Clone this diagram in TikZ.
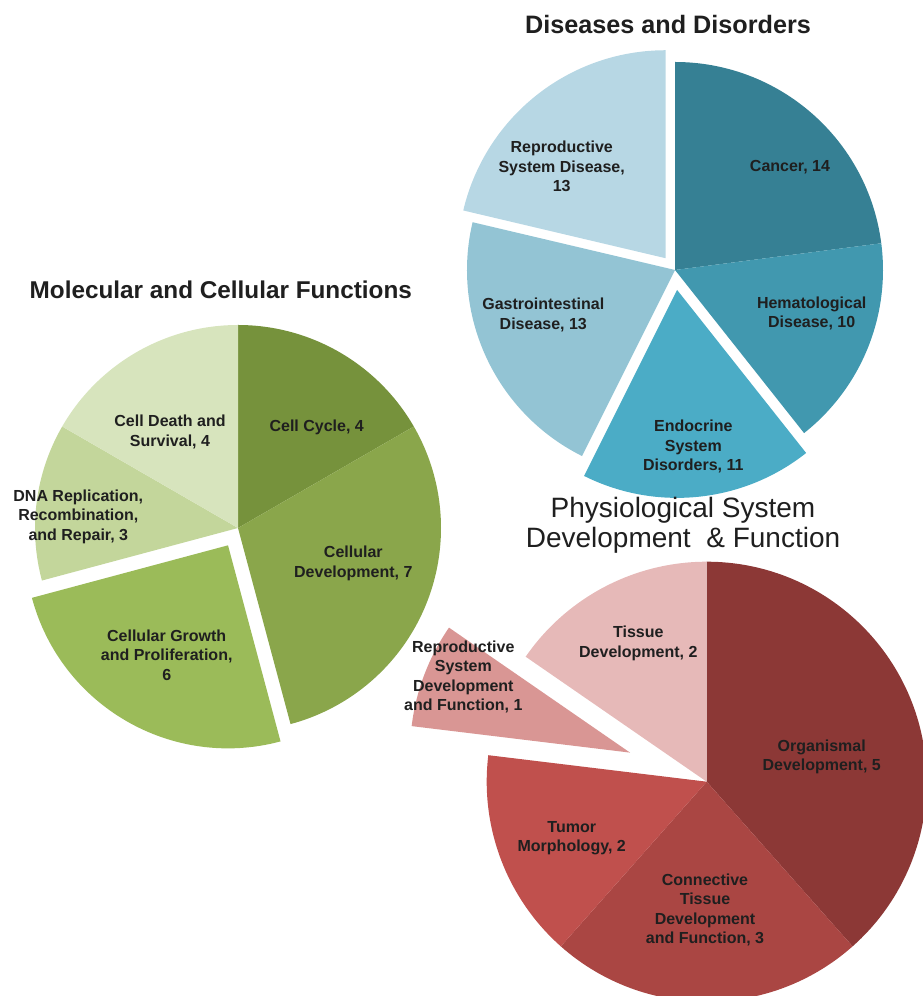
\documentclass[tikz,border=0pt]{standalone}
\usepackage{fontspec}
\setmainfont{Liberation Sans}
\begin{document}
\begin{tikzpicture}[x=1pt,y=1pt,
  lbl/.style={align=center, font=\fontsize{16}{19.5}\selectfont\bfseries, text=black!88, inner sep=0pt},
  ttl/.style={align=center, font=\fontsize{24.3}{28}\selectfont\bfseries, text=black!88, inner sep=0pt},
  bigttl/.style={align=center, font=\fontsize{28}{30}\selectfont, text=black!88, inner sep=0pt},
]
% slice: centre x, centre y, radius, start angle, end angle, explode offset, colour
\newcommand\pieslice[7]{%
  \fill[#7, shift={({(#4+#5)/2}:#6)}] (#1,#2) -- ++(#4:#3)
    arc[start angle=#4, end angle=#5, radius=#3] -- cycle;}

\definecolor{dCancer}{HTML}{368094}
\definecolor{dHema}{HTML}{4198AF}
\definecolor{dEndo}{HTML}{4BACC6}
\definecolor{dGast}{HTML}{93C4D4}
\definecolor{dRepro}{HTML}{B7D7E4}
\definecolor{mCycle}{HTML}{76923C}
\definecolor{mDev}{HTML}{8AA64B}
\definecolor{mGrowth}{HTML}{9BBB59}
\definecolor{mDNA}{HTML}{C3D69B}
\definecolor{mDeath}{HTML}{D7E4BD}
\definecolor{pOrg}{HTML}{8C3836}
\definecolor{pConn}{HTML}{AA4643}
\definecolor{pTumor}{HTML}{C0504D}
\definecolor{pRepro}{HTML}{D99694}
\definecolor{pTissue}{HTML}{E6B9B8}

\path[use as bounding box] (0,0) rectangle (923,996);
\clip (0,0) rectangle (923,996);

% Diseases and Disorders
\pieslice{675}{726}{208}{90}{7.38}{0}{dCancer}
\pieslice{675}{726}{208}{7.38}{-51.64}{0}{dHema}
\pieslice{675}{726}{208}{-51.64}{-116.56}{20}{dEndo}
\pieslice{675}{726}{208}{-116.56}{-193.28}{0}{dGast}
\pieslice{675}{726}{208}{-193.28}{-270}{15}{dRepro}
\node[ttl, font=\fontsize{25.2}{28}\selectfont\bfseries] (dtitle) at (668,971) {Diseases and Disorders};
\node[lbl] (dcancer) at (790,829.3) {Cancer, 14};
\node[lbl] (dhema) at (811.7,682.7) {Hematological\\Disease, 10};
\node[lbl] (dendo) at (693.3,549.3) {Endocrine\\System\\Disorders, 11};
\node[lbl] (dgast) at (543.3,681) {Gastrointestinal\\Disease, 13};
\node[lbl] (drepro) at (561.7,829.3) {Reproductive\\System Disease,\\13};

% Molecular and Cellular Functions
\pieslice{238}{468}{203}{90}{30}{0}{mCycle}
\pieslice{238}{468}{203}{30}{-75}{0}{mDev}
\pieslice{238}{468}{203}{-75}{-165}{20}{mGrowth}
\pieslice{238}{468}{203}{-165}{-210}{0}{mDNA}
\pieslice{238}{468}{203}{-210}{-270}{0}{mDeath}
\node[ttl] (mtitle) at (220.8,706) {Molecular and Cellular Functions};
\node[lbl] (mdeath) at (170,564.3) {Cell Death and\\Survival, 4};
\node[lbl] (mcycle) at (316.7,568.7) {Cell Cycle, 4};
\node[lbl] (mdna) at (78.3,479.3) {DNA Replication,\\Recombination,\\and Repair, 3};
\node[lbl] (mdev) at (353.3,432.7) {Cellular\\Development, 7};
\node[lbl] (mgrowth) at (166.7,341) {Cellular Growth\\and Proliferation,\\6};

% Physiological System Development & Function
\pieslice{706.7}{214.3}{220}{90}{-48.46}{0}{pOrg}
\pieslice{706.7}{214.3}{220}{-48.46}{-131.54}{0}{pConn}
\pieslice{706.7}{214.3}{220}{-131.54}{-186.92}{0}{pTumor}
\pieslice{706.7}{214.3}{220}{-186.92}{-214.62}{82}{pRepro}
\pieslice{706.7}{214.3}{220}{-214.62}{-270}{0}{pTissue}
\node[bigttl] (ptitle) at (683,471) {Physiological System\\Development\ \ \& Function};
\node[lbl] (ptissue) at (638.3,352.7) {Tissue\\Development, 2};
\node[lbl] (prepro) at (463.3,319.3) {Reproductive\\System\\Development\\and Function, 1};
\node[lbl] (porg) at (821.7,239.3) {Organismal\\Development, 5};
\node[lbl] (ptumor) at (571.7,157.7) {Tumor\\Morphology, 2};
\node[lbl] (pconn) at (705,86) {Connective\\Tissue\\Development\\and Function, 3};
\end{tikzpicture}
\end{document}
